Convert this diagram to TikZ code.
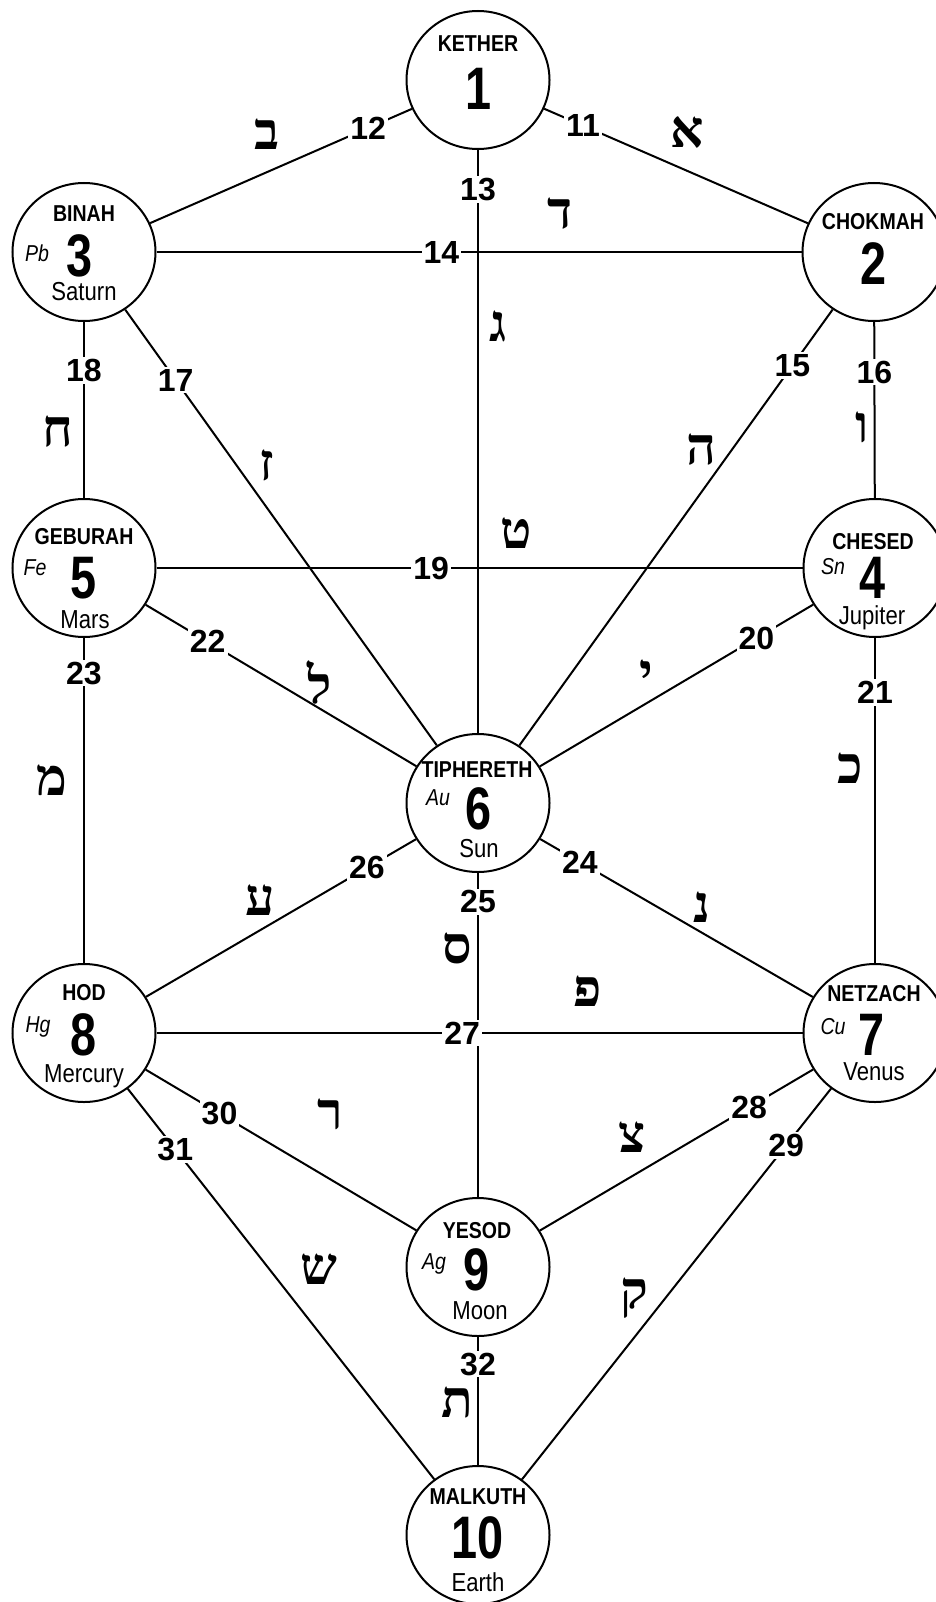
\documentclass[tikz,border=0pt]{standalone}
\usepackage{fontspec}
\setmainfont{Liberation Sans}
\newfontfamily\nar{Liberation Sans}[FakeStretch=0.85]
\newfontfamily\numf{Liberation Sans}[FakeStretch=0.78]
\newfontfamily\heb{Liberation Serif}[Script=Hebrew]
\usetikzlibrary{shapes.geometric}
\begin{document}
\begin{tikzpicture}[x=1pt,y=-1pt,
  sephira/.style={draw,line width=2pt,ellipse,minimum width=143pt,minimum height=138pt,inner sep=0pt},
  conn/.style={line width=2pt},
  nm/.style={font=\nar\bfseries\fontsize{23}{23}\selectfont,inner sep=0pt},
  big/.style={font=\numf\bfseries\fontsize{60}{60}\selectfont,inner sep=0pt,text height=43pt,text depth=0pt},
  pl/.style={font=\nar\fontsize{26}{26}\selectfont,inner sep=0pt},
  el/.style={font=\nar\itshape\fontsize{23}{23}\selectfont,inner sep=0pt},
  pn/.style={font=\bfseries\fontsize{32}{32}\selectfont,fill=white,inner sep=2pt},
  hb/.style={font=\heb\bfseries\fontsize{52}{52}\selectfont,inner sep=0pt}]
\useasboundingbox (0,0) rectangle (935,1602);
% sephiroth
\node[sephira] (k) at (478,80) {};
\node[sephira] (c2) at (874,252) {};
\node[sephira] (b3) at (84,252) {};
\node[sephira] (ch4) at (875,568) {};
\node[sephira] (g5) at (84,568) {};
\node[sephira] (t6) at (478,803) {};
\node[sephira] (n7) at (875,1033) {};
\node[sephira] (h8) at (84,1033) {};
\node[sephira] (y9) at (478,1267) {};
\node[sephira] (m10) at (478,1535) {};
% texts
\node[nm] (kn) at (478,44) {KETHER};
\node[big] (knum) at (479,88) {1};
\node[nm] (c2n) at (873,222) {CHOKMAH};
\node[big] (c2num) at (874,263) {2};
\node[nm] (b3n) at (84,214) {BINAH};
\node[el] (b3e) at (37,253) {Pb};
\node[big] (b3num) at (80,255) {3};
\node[pl] (b3p) at (84,292) {Saturn};
\node[nm] (ch4n) at (873,542) {CHESED};
\node[el] (ch4e) at (833,567) {Sn};
\node[big] (ch4num) at (873,577) {4};
\node[pl] (ch4p) at (872,618) {Jupiter};
\node[nm] (g5n) at (84,537) {GEBURAH};
\node[el] (g5e) at (35,568) {Fe};
\node[big] (g5num) at (84,577) {5};
\node[pl] (g5p) at (85,620) {Mars};
\node[nm] (t6n) at (477,770) {TIPHERETH};
\node[el] (t6e) at (438,798) {Au};
\node[big] (t6num) at (479,808) {6};
\node[pl] (t6p) at (479,849) {Sun};
\node[nm] (n7n) at (874,994) {NETZACH};
\node[el] (n7e) at (833,1027) {Cu};
\node[big] (n7num) at (871,1034) {7};
\node[pl] (n7p) at (874,1072) {Venus};
\node[nm] (h8n) at (84,993) {HOD};
\node[el] (h8e) at (38,1027) {Hg};
\node[big] (h8num) at (84,1034) {8};
\node[pl] (h8p) at (84,1076) {Mercury};
\node[nm] (y9n) at (477,1231) {YESOD};
\node[el] (y9e) at (434,1264) {Ag};
\node[big] (y9num) at (477,1269) {9};
\node[pl] (y9p) at (480,1311) {Moon};
\node[nm] (m10n) at (478,1497) {MALKUTH};
\node[big] (m10num) at (478,1537) {10};
\node[pl] (m10p) at (478,1582) {Earth};
% paths
\draw[conn] (k) -- (c2);
\draw[conn] (k) -- (b3);
\draw[conn] (k) -- (t6);
\draw[conn] (b3) -- (c2);
\draw[conn] (c2) -- (t6);
\draw[conn] (c2) -- (ch4);
\draw[conn] (b3) -- (t6);
\draw[conn] (b3) -- (g5);
\draw[conn] (g5) -- (ch4);
\draw[conn] (ch4) -- (t6);
\draw[conn] (ch4) -- (n7);
\draw[conn] (g5) -- (t6);
\draw[conn] (g5) -- (h8);
\draw[conn] (t6) -- (n7);
\draw[conn] (t6) -- (y9);
\draw[conn] (t6) -- (h8);
\draw[conn] (h8) -- (n7);
\draw[conn] (n7) -- (y9);
\draw[conn] (n7) -- (m10);
\draw[conn] (h8) -- (y9);
\draw[conn] (h8) -- (m10);
\draw[conn] (y9) -- (m10);
% path numbers
\path (k.center) -- node[pn,pos=.265] (p11) {11} (c2.center);
\path (k.center) -- node[pn,pos=.279] (p12) {12} (b3.center);
\path (k.center) -- node[pn,pos=.151] (p13) {13} (t6.center);
\path (b3.center) -- node[pn,pos=.4525] (p14) {14} (c2.center);
\path (c2.center) -- node[pn,pos=.206] (p15) {15} (t6.center);
\path (c2.center) -- node[pn,pos=.38] (p16) {16} (ch4.center);
\path (b3.center) -- node[pn,pos=.2326] (p17) {17} (t6.center);
\path (b3.center) -- node[pn,pos=.376] (p18) {18} (g5.center);
\path (g5.center) -- node[pn,pos=.439] (p19) {19} (ch4.center);
\path (ch4.center) -- node[pn,pos=.299] (p20) {20} (t6.center);
\path (ch4.center) -- node[pn,pos=.268] (p21) {21} (n7.center);
\path (g5.center) -- node[pn,pos=.314] (p22) {22} (t6.center);
\path (g5.center) -- node[pn,pos=.226] (p23) {23} (h8.center);
\path (t6.center) -- node[pn,pos=.2566] (p24) {24} (n7.center);
\path (t6.center) -- node[pn,pos=.213] (p25) {25} (y9.center);
\path (t6.center) -- node[pn,pos=.282] (p26) {26} (h8.center);
\path (h8.center) -- node[pn,pos=.478] (p27) {27} (n7.center);
\path (n7.center) -- node[pn,pos=.317] (p28) {28} (y9.center);
\path (n7.center) -- node[pn,pos=.224] (p29) {29} (m10.center);
\path (h8.center) -- node[pn,pos=.344] (p30) {30} (y9.center);
\path (h8.center) -- node[pn,pos=.2317] (p31) {31} (m10.center);
\path (y9.center) -- node[pn,pos=.362] (p32) {32} (m10.center);
% hebrew letters
\node[hb] (h11) at (687,132) {א};
\node[hb] (h12) at (267,134) {ב};
\node[hb] (h13) at (498,326) {ג};
\node[hb] (h14) at (560,214) {ד};
\node[hb] (h15) at (701,450) {ה};
\node[hb] (h16) at (862,427) {ו};
\node[hb] (h17) at (267,465) {ז};
\node[hb] (h18) at (58,432) {ח};
\node[hb] (h19) at (516,533) {ט};
\node[hb] (h20) at (646,675) {י};
\node[hb] (h21) at (850,768) {כ};
\node[hb] (h22) at (320,683) {ל};
\node[hb] (h23) at (52,780) {מ};
\node[hb] (h24) at (702,907) {נ};
\node[hb] (h25) at (457,948) {ס};
\node[hb] (h26) at (260,900) {ע};
\node[hb] (h27) at (588,991) {פ};
\node[hb] (h28) at (632,1137) {צ};
\node[hb] (h29) at (634,1298) {ק};
\node[hb] (h30) at (330,1114) {ר};
\node[hb] (h31) at (319,1269) {ש};
\node[hb] (h32) at (457,1402) {ת};
\end{tikzpicture}
\end{document}
